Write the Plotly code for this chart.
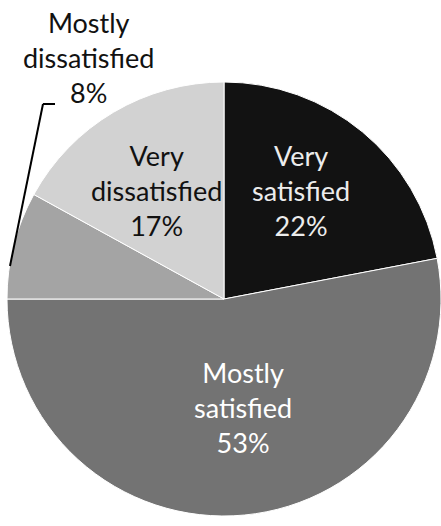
import plotly.graph_objects as go

# Survey satisfaction shares, clockwise from 12 o'clock
categories = ["Very satisfied", "Mostly satisfied", "Mostly dissatisfied", "Very dissatisfied"]
shares = [22, 53, 8, 17]
slice_colors = ["#121212", "#737373", "#a4a4a4", "#d2d2d2"]
label_colors = ["#ececec", "#ffffff", "#111111", "#111111"]

W, H = 441, 526


def px(x):
    return x / W


def py(y):
    return 1 - y / H


fig = go.Figure(
    go.Pie(
        labels=categories,
        values=shares,
        sort=False,
        direction="clockwise",
        rotation=0,
        textinfo="none",
        hoverinfo="label+percent",
        marker=dict(colors=slice_colors, line=dict(color="#ffffff", width=1)),
        domain=dict(x=[px(7), 1], y=[py(518), py(80)]),
        showlegend=False,
    )
)

# Label anchor points (pixel centres of each text block)
label_pos = [(301, 190), (243, 407), (88, 58), (156, 190)]

annotations = []
for name, val, col, (lx, ly) in zip(categories, shares, label_colors, label_pos):
    annotations.append(
        dict(
            x=px(lx), y=py(ly), xref="paper", yref="paper",
            text=name.replace(" ", "<br>") + f"<br>{val}%",
            showarrow=False, xanchor="center", yanchor="middle",
            font=dict(family="Lato", size=27, color=col),
        )
    )

# Leader line for the small outside label
shapes = [
    dict(type="line", xref="paper", yref="paper",
         x0=px(55), y0=py(104), x1=px(43), y1=py(104),
         line=dict(color="#000000", width=2)),
    dict(type="line", xref="paper", yref="paper",
         x0=px(43), y0=py(104), x1=px(10), y1=py(266),
         line=dict(color="#000000", width=2)),
]

fig.update_layout(
    width=W, height=H,
    margin=dict(l=0, r=0, t=0, b=0),
    paper_bgcolor="#ffffff",
    plot_bgcolor="#ffffff",
    annotations=annotations,
    shapes=shapes,
)

fig.write_html("out.html")
